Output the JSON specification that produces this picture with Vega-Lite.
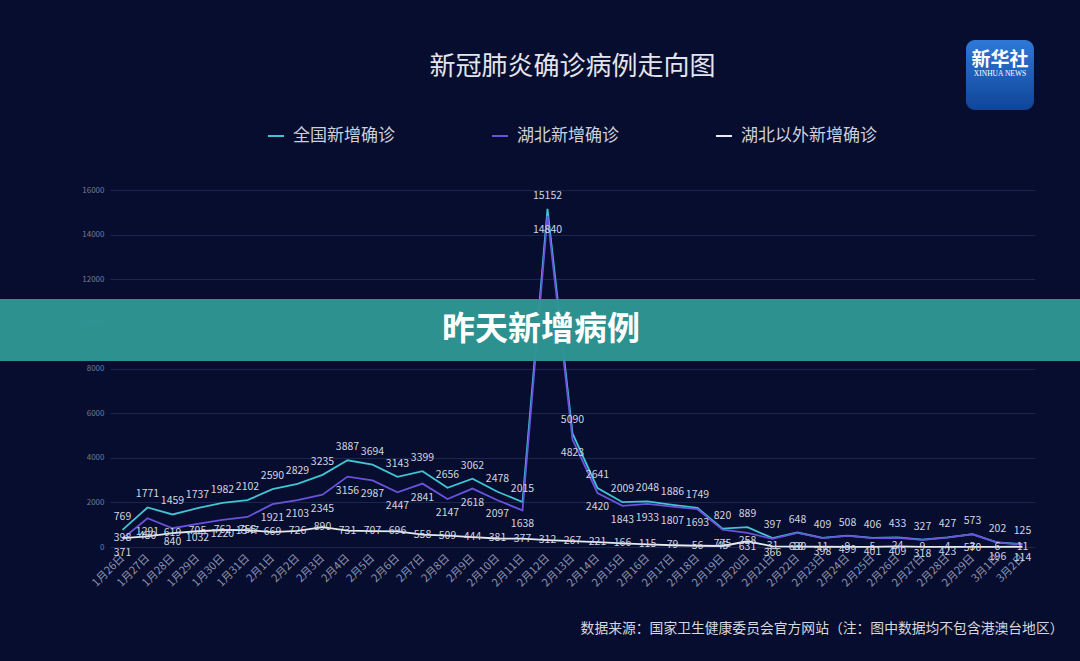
{
  "$schema": "https://vega.github.io/schema/vega-lite/v6.json",
  "autosize": {"type": "none"},
  "width": 925,
  "height": 357,
  "padding": {"left": 110, "top": 190, "right": 45, "bottom": 114},
  "background": "#060d2e",
  "config": {"view": {"stroke": null}, "font": "Noto Sans CJK SC"},
  "title": {"text": "新冠肺炎确诊病例走向图", "fontSize": 26, "color": "#e4e5ec", "fontWeight": "normal", "anchor": "middle", "offset": -40},
  "layer": [
    {
      "data": {"values": [
        {"date": "2020-01-26", "全国新增确诊": 769, "湖北新增确诊": 371, "湖北以外新增确诊": 398},
        {"date": "2020-01-27", "全国新增确诊": 1771, "湖北新增确诊": 1291, "湖北以外新增确诊": 480},
        {"date": "2020-01-28", "全国新增确诊": 1459, "湖北新增确诊": 840, "湖北以外新增确诊": 619},
        {"date": "2020-01-29", "全国新增确诊": 1737, "湖北新增确诊": 1032, "湖北以外新增确诊": 705},
        {"date": "2020-01-30", "全国新增确诊": 1982, "湖北新增确诊": 1220, "湖北以外新增确诊": 762},
        {"date": "2020-01-31", "全国新增确诊": 2102, "湖北新增确诊": 1347, "湖北以外新增确诊": 755},
        {"date": "2020-02-01", "全国新增确诊": 2590, "湖北新增确诊": 1921, "湖北以外新增确诊": 669},
        {"date": "2020-02-02", "全国新增确诊": 2829, "湖北新增确诊": 2103, "湖北以外新增确诊": 726},
        {"date": "2020-02-03", "全国新增确诊": 3235, "湖北新增确诊": 2345, "湖北以外新增确诊": 890},
        {"date": "2020-02-04", "全国新增确诊": 3887, "湖北新增确诊": 3156, "湖北以外新增确诊": 731},
        {"date": "2020-02-05", "全国新增确诊": 3694, "湖北新增确诊": 2987, "湖北以外新增确诊": 707},
        {"date": "2020-02-06", "全国新增确诊": 3143, "湖北新增确诊": 2447, "湖北以外新增确诊": 696},
        {"date": "2020-02-07", "全国新增确诊": 3399, "湖北新增确诊": 2841, "湖北以外新增确诊": 558},
        {"date": "2020-02-08", "全国新增确诊": 2656, "湖北新增确诊": 2147, "湖北以外新增确诊": 509},
        {"date": "2020-02-09", "全国新增确诊": 3062, "湖北新增确诊": 2618, "湖北以外新增确诊": 444},
        {"date": "2020-02-10", "全国新增确诊": 2478, "湖北新增确诊": 2097, "湖北以外新增确诊": 381},
        {"date": "2020-02-11", "全国新增确诊": 2015, "湖北新增确诊": 1638, "湖北以外新增确诊": 377},
        {"date": "2020-02-12", "全国新增确诊": 15152, "湖北新增确诊": 14840, "湖北以外新增确诊": 312},
        {"date": "2020-02-13", "全国新增确诊": 5090, "湖北新增确诊": 4823, "湖北以外新增确诊": 267},
        {"date": "2020-02-14", "全国新增确诊": 2641, "湖北新增确诊": 2420, "湖北以外新增确诊": 221},
        {"date": "2020-02-15", "全国新增确诊": 2009, "湖北新增确诊": 1843, "湖北以外新增确诊": 166},
        {"date": "2020-02-16", "全国新增确诊": 2048, "湖北新增确诊": 1933, "湖北以外新增确诊": 115},
        {"date": "2020-02-17", "全国新增确诊": 1886, "湖北新增确诊": 1807, "湖北以外新增确诊": 79},
        {"date": "2020-02-18", "全国新增确诊": 1749, "湖北新增确诊": 1693, "湖北以外新增确诊": 56},
        {"date": "2020-02-19", "全国新增确诊": 820, "湖北新增确诊": 775, "湖北以外新增确诊": 45},
        {"date": "2020-02-20", "全国新增确诊": 889, "湖北新增确诊": 631, "湖北以外新增确诊": 258},
        {"date": "2020-02-21", "全国新增确诊": 397, "湖北新增确诊": 366, "湖北以外新增确诊": 31},
        {"date": "2020-02-22", "全国新增确诊": 648, "湖北新增确诊": 630, "湖北以外新增确诊": 18},
        {"date": "2020-02-23", "全国新增确诊": 409, "湖北新增确诊": 398, "湖北以外新增确诊": 11},
        {"date": "2020-02-24", "全国新增确诊": 508, "湖北新增确诊": 499, "湖北以外新增确诊": 9},
        {"date": "2020-02-25", "全国新增确诊": 406, "湖北新增确诊": 401, "湖北以外新增确诊": 5},
        {"date": "2020-02-26", "全国新增确诊": 433, "湖北新增确诊": 409, "湖北以外新增确诊": 24},
        {"date": "2020-02-27", "全国新增确诊": 327, "湖北新增确诊": 318, "湖北以外新增确诊": 9},
        {"date": "2020-02-28", "全国新增确诊": 427, "湖北新增确诊": 423, "湖北以外新增确诊": 4},
        {"date": "2020-02-29", "全国新增确诊": 573, "湖北新增确诊": 570, "湖北以外新增确诊": 3},
        {"date": "2020-03-01", "全国新增确诊": 202, "湖北新增确诊": 196, "湖北以外新增确诊": 6},
        {"date": "2020-03-02", "全国新增确诊": 125, "湖北新增确诊": 114, "湖北以外新增确诊": 11}
      ]},
      "transform": [{"fold": ["全国新增确诊", "湖北新增确诊", "湖北以外新增确诊"], "as": ["series", "value"]}],
      "encoding": {
        "x": {
          "field": "date", "type": "temporal",
          "scale": {"type": "utc", "domain": [1579953600000, 1583150400000]},
          "axis": {
            "labelExpr": "utcFormat(datum.value, '%-m月%-d日')",
            "tickCount": {"interval": "day", "step": 1},
            "labelAngle": -45, "labelAlign": "right", "labelBaseline": "middle",
            "labelFontSize": 11, "labelColor": "#8c93b0", "labelPadding": 9, "labelOverlap": false, "labelFlush": false,
            "domain": false, "ticks": false, "grid": false,
            "title": "数据来源：国家卫生健康委员会官方网站（注：图中数据均不包含港澳台地区）",
            "titleX": 953, "titleY": 81, "titleAlign": "right", "titleBaseline": "middle",
            "titleFontSize": 13.8, "titleColor": "#d6d7de", "titleFontWeight": "normal"
          }
        },
        "y": {
          "field": "value", "type": "quantitative",
          "scale": {"domain": [0, 16000], "nice": false},
          "axis": {
            "values": [0, 2000, 4000, 6000, 8000, 10000, 12000, 14000, 16000], "format": "d",
            "labelFontSize": 8, "labelColor": "#737c9b", "labelPadding": 6,
            "domain": false, "ticks": false, "gridColor": "#1a2550", "gridWidth": 1, "title": null
          }
        }
      },
      "layer": [
        {
          "mark": {"type": "line", "strokeWidth": 1.8},
          "encoding": {
            "color": {
              "field": "series", "type": "nominal",
              "scale": {"domain": ["全国新增确诊", "湖北新增确诊", "湖北以外新增确诊"], "range": ["#41c4d3", "#6a52dc", "#e8eaf2"]},
              "legend": {
                "orient": "none", "legendX": 157, "legendY": -63, "direction": "horizontal", "title": null,
                "symbolType": "stroke", "symbolSize": 256, "symbolStrokeWidth": 2,
                "labelFontSize": 17, "labelColor": "#cdd0dc", "columnPadding": 93, "labelOffset": 8
              }
            }
          }
        },
        {
          "transform": [{"filter": "datum.series === '全国新增确诊'"}],
          "mark": {"type": "text", "dy": -13, "fontSize": 10.5, "color": "#d3d6e0"},
          "encoding": {"text": {"field": "value", "type": "quantitative"}}
        },
        {
          "transform": [{"filter": "datum.series === '湖北新增确诊'"}],
          "mark": {"type": "text", "dy": 14, "fontSize": 10.5, "color": "#d3d6e0"},
          "encoding": {"text": {"field": "value", "type": "quantitative"}}
        },
        {
          "transform": [{"filter": "datum.series === '湖北以外新增确诊'"}],
          "mark": {"type": "text", "dy": 0, "fontSize": 10.5, "color": "#d3d6e0"},
          "encoding": {"text": {"field": "value", "type": "quantitative"}}
        }
      ]
    },
    {
      "data": {"values": [{"label": "昨天新增病例"}]},
      "layer": [
        {
          "mark": {"type": "rect", "color": "#2e9694", "opacity": 0.97},
          "encoding": {
            "x": {"datum": 1579478400000, "type": "temporal"},
            "x2": {"datum": 1583452800000},
            "y": {"datum": 11115, "type": "quantitative"},
            "y2": {"datum": 8340}
          }
        },
        {
          "mark": {"type": "text", "fontSize": 33, "fontWeight": "bold", "color": "#ffffff"},
          "encoding": {
            "text": {"field": "label"},
            "x": {"datum": 1581443100000, "type": "temporal"},
            "y": {"datum": 9726, "type": "quantitative"}
          }
        }
      ]
    },
    {
      "data": {"values": [{"name": "新华社", "en": "XINHUA NEWS"}]},
      "layer": [
        {
          "mark": {"type": "rect", "cornerRadius": 9, "fill": {"gradient": "linear", "x1": 0, "y1": 0, "x2": 0, "y2": 1, "stops": [{"offset": 0, "color": "#2f78d8"}, {"offset": 1, "color": "#0f4598"}]}},
          "encoding": {
            "x": {"datum": 1582911900000, "type": "temporal"},
            "x2": {"datum": 1583146800000},
            "y": {"datum": 22723, "type": "quantitative"},
            "y2": {"datum": 19586}
          }
        },
        {
          "mark": {"type": "text", "fontSize": 19, "fontWeight": "bold", "color": "#ffffff"},
          "encoding": {
            "text": {"field": "name"},
            "x": {"datum": 1583029440000, "type": "temporal"},
            "y": {"datum": 21826, "type": "quantitative"}
          }
        },
        {
          "mark": {"type": "text", "fontSize": 7.5, "font": "Liberation Serif", "color": "#ffffff"},
          "encoding": {
            "text": {"field": "en"},
            "x": {"datum": 1583029440000, "type": "temporal"},
            "y": {"datum": 21199, "type": "quantitative"}
          }
        }
      ]
    }
  ]
}
